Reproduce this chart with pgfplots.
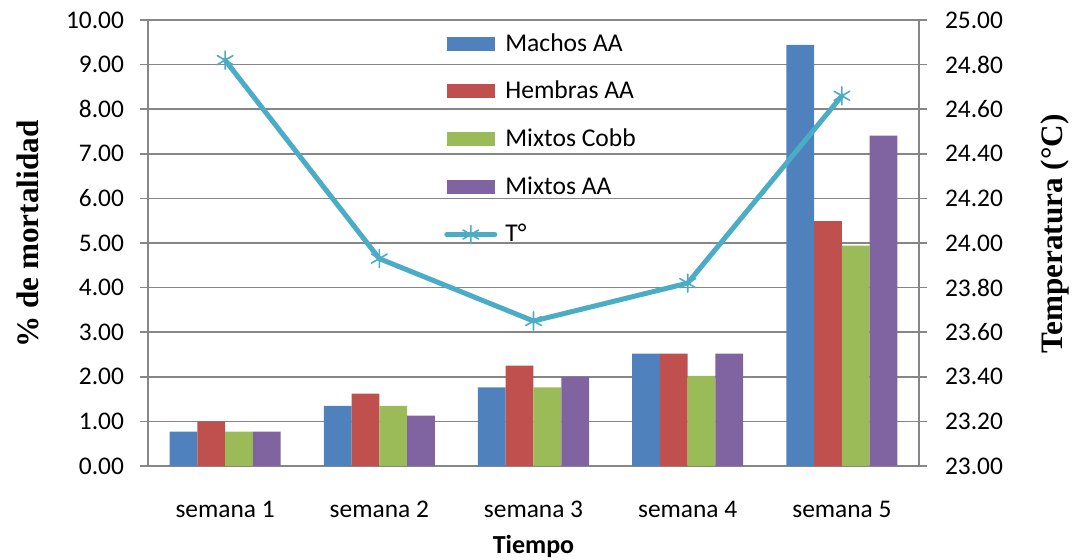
\documentclass[border=0pt]{standalone}
\usepackage{fontspec}
\setmainfont{Carlito}
\newfontfamily\titlefont{Liberation Serif}
\usepackage{pgfplots}
\usepackage{pgfplotstable}
\pgfplotsset{compat=1.18}
\definecolor{cA}{HTML}{4F81BD}
\definecolor{cB}{HTML}{C0504D}
\definecolor{cC}{HTML}{9BBB59}
\definecolor{cD}{HTML}{8064A2}
\definecolor{cT}{HTML}{4BACC6}
\definecolor{gridc}{HTML}{868686}

\pgfplotstableread{
x machos hembras cobb mixtos temp
1 0.77 1.00 0.77 0.77 24.82
2 1.35 1.62 1.35 1.13 23.93
3 1.76 2.25 1.76 2.00 23.65
4 2.52 2.52 2.02 2.52 23.82
5 9.44 5.49 4.94 7.41 24.66
}\data

\pgfplotsset{
  common/.style={
    scale only axis, width=385.5pt, height=223pt,
    at={(0pt,0pt)}, anchor=south west,
    xmin=0.5, xmax=5.5,
    font=\fontsize{12.7}{15}\selectfont,
    axis line style={gridc, line width=0.8pt},
    tick style={gridc, line width=0.8pt},
    tick align=outside, major tick length=4pt,
    /pgf/number format/fixed, /pgf/number format/fixed zerofill,
    /pgf/number format/precision=2, /pgf/number format/assume math mode=true,
  },
  bar legend/.style={legend image code/.code={\fill[##1, draw=none] (0pt,-3.5pt) rectangle (24pt,3.5pt);}},
}

\begin{document}
\begin{tikzpicture}
\useasboundingbox (-74pt,-47pt) rectangle (464pt,233pt);
\begin{axis}[common,
  ymin=0, ymax=10, ytick={0,1,...,10},
  axis x line*=bottom, axis y line*=left,
  ymajorgrids, grid style={gridc, line width=0.8pt},
  xtick={1,2,3,4,5},
  xticklabels={semana 1, semana 2, semana 3, semana 4, semana 5},
  x tick style={draw=none},
  xticklabel style={anchor=base, yshift=-22pt},
  yticklabel style={anchor=east, xshift=-4.5pt},
  xlabel={\bfseries Tiempo},
  xlabel style={at={(axis description cs:0.5,0)}, anchor=base, yshift=-44pt, font=\fontsize{13}{15}\selectfont},
  ylabel={\titlefont\bfseries \% de mortalidad},
  ylabel style={at={(axis description cs:-0.1556,0.52)}, anchor=center, font=\fontsize{15.6}{18}\selectfont},
  ybar=0pt, bar width=0.18,
]
\addplot[fill=cA, draw=none] table[x=x, y=machos]{\data};
\addplot[fill=cB, draw=none] table[x=x, y=hembras]{\data};
\addplot[fill=cC, draw=none] table[x=x, y=cobb]{\data};
\addplot[fill=cD, draw=none] table[x=x, y=mixtos]{\data};
\end{axis}
\begin{axis}[common,
  ymin=23, ymax=25, ytick={23,23.2,23.4,23.6,23.8,24,24.2,24.4,24.6,24.8,25},
  axis x line=none, axis y line*=right,
  yticklabel style={anchor=west, xshift=5.5pt},
  ylabel={\titlefont\bfseries Temperatura (°C)},
  ylabel style={at={(axis description cs:1.177,0.52)}, anchor=center, font=\fontsize{15.6}{18}\selectfont},
  legend style={at={(rel axis cs:0.376,0.98)}, anchor=north west, draw=none, fill=none,
    nodes={inner sep=0pt}, row sep=13.5pt, column sep=4pt, font=\fontsize{12.8}{15}\selectfont},
  legend cell align=left,
]
\addlegendimage{bar legend, fill=cA, draw=none}
\addlegendentry{Machos AA}
\addlegendimage{bar legend, fill=cB, draw=none}
\addlegendentry{Hembras AA}
\addlegendimage{bar legend, fill=cC, draw=none}
\addlegendentry{Mixtos Cobb}
\addlegendimage{bar legend, fill=cD, draw=none}
\addlegendentry{Mixtos AA}
\addplot[cT, line width=2.5pt, line join=round, line cap=round, mark=asterisk, mark size=4.5pt,
  mark options={line width=0.8pt, solid},
  legend image code/.code={\draw[mark repeat=2, mark phase=2] plot coordinates {(0pt,0pt) (12pt,0pt) (24pt,0pt)};}]
  table[x=x, y=temp]{\data};
\addlegendentry{T°}
\end{axis}
\end{tikzpicture}
\end{document}
